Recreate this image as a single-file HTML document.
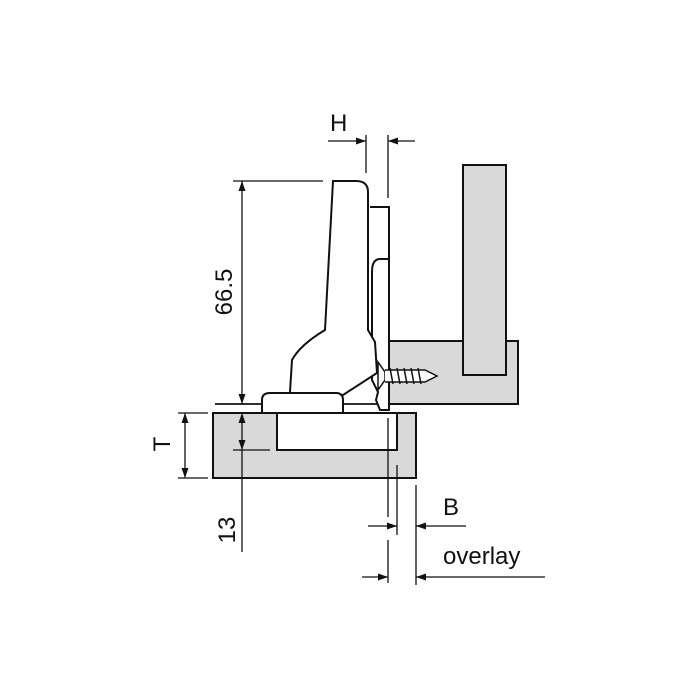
<!DOCTYPE html>
<html><head><meta charset="utf-8"><style>
html,body{margin:0;padding:0;background:#fff;}
svg{display:block}
text{font-family:"Liberation Sans",Arial,sans-serif;fill:#111;}
</style></head><body>
<svg width="700" height="700" viewBox="0 0 700 700" xmlns="http://www.w3.org/2000/svg">
<defs>
<marker id="a" viewBox="0 0 10 10" refX="10" refY="5" markerWidth="10" markerHeight="10" markerUnits="userSpaceOnUse" orient="auto">
<path d="M0,1.5 L10,5 L0,8.5 Z" fill="#111"/></marker>
</defs>
<g stroke="#111" fill="none" stroke-width="1.3">
<rect x="389" y="341" width="129" height="63" fill="#d9d9d9" stroke-width="2"/>
<rect x="463" y="165" width="43" height="210" fill="#d9d9d9" stroke-width="2"/>
<path d="M213,413 H416 V478 H213 Z" fill="#d9d9d9" stroke-width="2"/>
<path d="M277,413 V450 H397 V413" fill="#fff" stroke-width="2"/>
<line x1="213" y1="413" x2="416" y2="413" stroke-width="2"/>
<line x1="215" y1="404" x2="390" y2="404" stroke-width="1.8"/>
<path d="M370,207 H389 V410 H380 L376,400 L378,392 L372,380 V272 Q372,259 380,259 H389" fill="#fff" stroke-width="2"/>
<path d="M333,181 H356 Q368,181 368,192 V330 L375,342 L377,373 L343,395 L290,395 L290,392 L292,360 Q300,345 325,330 Z" fill="#fff" stroke-width="2"/>
<path d="M262,412 V400 Q262,393 270,393 H336 Q343,393 343,400 V412" fill="#fff" stroke-width="2"/>
<path d="M378,362 L385,372 L385,380 L378,390 Z" fill="#fff" stroke-width="1.5"/>
<path d="M385,370 H425 L437,376 L425,382 H385" fill="#fff" stroke-width="1.5"/>
<path d="M390,368 l3,16 M397,368 l3,16 M404,368 l3,16 M411,368 l3,16 M418,368 l3,16" stroke-width="1.5"/>
<line x1="366" y1="135" x2="366" y2="173"/>
<line x1="388" y1="135" x2="388" y2="198"/>
<line x1="328" y1="141" x2="366" y2="141" marker-end="url(#a)"/>
<line x1="415" y1="141" x2="388" y2="141" marker-end="url(#a)"/>
<line x1="233" y1="181" x2="323" y2="181"/>
<line x1="242" y1="292" x2="242" y2="181" marker-end="url(#a)"/>
<line x1="242" y1="292" x2="242" y2="404" marker-end="url(#a)"/>
<line x1="178" y1="413" x2="208" y2="413"/>
<line x1="178" y1="478" x2="208" y2="478"/>
<line x1="185" y1="445" x2="185" y2="413" marker-end="url(#a)"/>
<line x1="185" y1="445" x2="185" y2="478" marker-end="url(#a)"/>
<line x1="233" y1="450" x2="270" y2="450"/>
<line x1="242" y1="430" x2="242" y2="413" marker-end="url(#a)"/>
<line x1="242" y1="430" x2="242" y2="450" marker-end="url(#a)"/>
<line x1="242" y1="450" x2="242" y2="552"/>
<line x1="388" y1="418" x2="388" y2="517"/>
<line x1="388" y1="540" x2="388" y2="583"/>
<line x1="397" y1="465" x2="397" y2="535"/>
<line x1="416" y1="485" x2="416" y2="585"/>
<line x1="368" y1="526" x2="397" y2="526" marker-end="url(#a)"/>
<line x1="466" y1="526" x2="416" y2="526" marker-end="url(#a)"/>
<line x1="362" y1="577" x2="388" y2="577" marker-end="url(#a)"/>
<line x1="545" y1="577" x2="416" y2="577" marker-end="url(#a)"/>
</g>
<text x="330" y="131" font-size="24">H</text>
<text transform="translate(232,292) rotate(-90)" font-size="24" text-anchor="middle">66.5</text>
<text transform="translate(170,444) rotate(-90)" font-size="24" text-anchor="middle">T</text>
<text transform="translate(235,530) rotate(-90)" font-size="24" text-anchor="middle">13</text>
<text x="443" y="515" font-size="24">B</text>
<text x="443" y="564" font-size="24">overlay</text>
</svg>
</body></html>
